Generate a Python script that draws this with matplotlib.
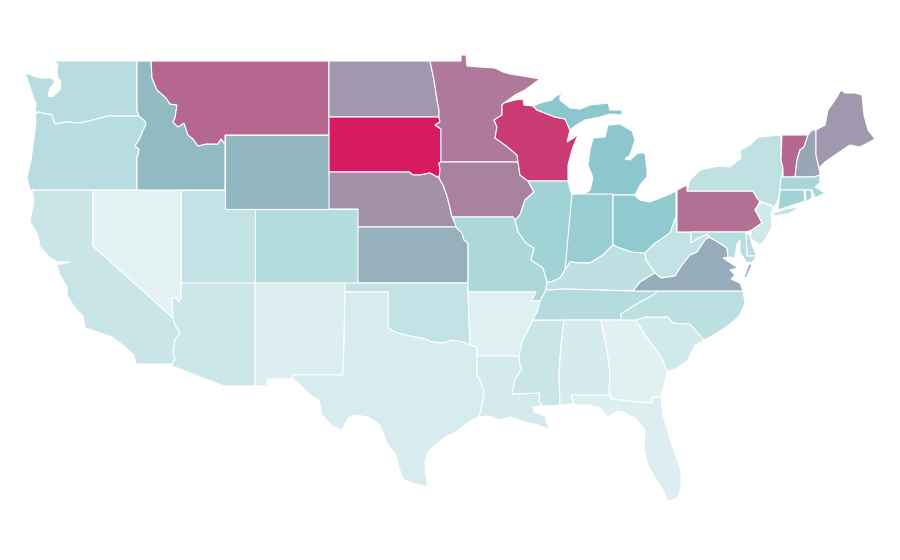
import matplotlib
matplotlib.use('Agg')
import matplotlib.pyplot as plt
from matplotlib.colors import LinearSegmentedColormap, Normalize
from matplotlib.patches import Polygon

# value per state (0-100 on the colour ramp)
states = ['WA','OR','CA','NV','ID','MT','WY','UT','CO','AZ','NM','ND','SD','NE','KS','OK','TX',
          'MN','IA','MO','AR','LA','WI','IL','MS','MI','IN','KY','TN','AL','GA','FL','SC','NC',
          'OH','WV','VA','PA','NY','NJ','DE','MD','VT','NH','ME','MA','CT','RI']
values = [26,26,17,2,54,78,55,20,28,15,7,64,100,66,57,20,9,
          73,70,32,5,11,91,38,17,50,43,23,28,10,4,7,13,24,
          48,20,58,75,22,13,26,26,78,60,64,34,38,36]
ramp = ['#e8f4f5', '#8bc8cc', '#d81b60']

# shared borders, picture coordinates
or_id = [(139,116),(145,121),(146,124),(142,133),(139,140),(135,146),(139,149),(138,156),(137,156)]
wa_or = [(35,115),(38,112),(52,115),(55,124),(65,122),(80,123),(93,120),(108,116),(139,116)]
id_mt = [(151,61),(152,78),(157,90),(166,98),(170,104),(177,105),(175,118),(173,122),(178,127),(184,123),
         (188,135),(193,139),(198,146),(206,144),(218,144),(221,139),(225,144)]
nv_az = [(181,298),(179,302),(176,298),(172,298),(173,318)]
ca_az = [(173,318),(175,325),(180,333),(175,340),(173,352),(175,360),(172,364)]
nd_mn = [(430,61),(434,80),(437,100),(439,110),(439,117)]
sd_mn = [(439,117),(440,122),(435,125),(441,129),(441,162)]
sd_ia = [(441,162),(439,163),(440,170),(439,178)]
sd_ne = [(329,172),(409,172),(413,175),(420,175),(430,173),(439,178)]
ne_ia = [(439,178),(443,185),(447,196),(450,208),(452,217)]
ks_mo = [(456,227),(462,233),(464,240),(468,243),(468,283)]
red_river = [(388,328),(395,332),(405,335),(415,337),(425,339),(432,342),(443,343),(452,340),(463,342),(470,345)]
tx_la = [(477,356),(477,375),(480,380),(484,392),(482,405),(479,417)]
ms_river = [(536,292),(531,301),(540,301),(538,310),(533,320),(528,330),(522,342),(519,356)]
la_ms = [(519,356),(520,365),(522,368),(515,380),(512,394),(540,393),(539,400),(542,406)]
ms_al = [(564,320),(561,345),(559,375),(560,405)]
al_ga = [(601,320),(607,350),(610,372),(609,392),(612,399)]
ga_sc = [(636,320),(645,335),(655,348),(663,360),(667,372)]
mn_wi = [(502,105),(502,115),(494,120),(497,127),(495,138),(505,145),(517,155),(518,162)]
ia_il = [(518,162),(520,175),(528,181),(534,192),(525,200),(520,215),(515,220)]
mo_il = [(515,220),(518,232),(526,243),(534,248),(531,260),(543,268),(547,282)]
oh_river_il = [(551,282),(560,278),(565,270),(570,260),(572,245)]
oh_river_in = [(565,270),(570,262),(580,263),(590,263),(603,255),(613,245)]
oh_river_oh = [(613,245),(620,248),(632,252),(645,253)]
oh_wv = [(645,253),(654,244),(660,240),(670,233),(673,225),(676,217)]
ky_wv = [(645,253),(646,260),(655,273)]
ky_va = [(655,273),(640,282),(633,291)]
va_wv = [(655,273),(661,278),(675,276),(682,265),(690,255),(697,252),(705,240),(709,237)]
md_va = [(709,237),(718,242),(727,248),(728,257)]
nc_tn = [(621,320),(621,314),(640,302),(655,294),(658,291)]
pa_nj = [(753,191),(757,198),(760,201),(755,210),(757,213),(762,223),(752,230),(746,232)]
vt_nh = [(808,135),(804,147),(800,150),(797,160),(795,177)]
nh_me = [(816,130),(816,155),(819,168)]

outlines = {
    'WA': [(54,61),(137,61),(137,110),(139,116)] + wa_or[::-1] + [(36,103),(33,97),(30,87),(25,73),(40,78),(52,78),(55,82),(50,88),
           (48,96),(52,97),(60,90),(61,81),(58,79),(57,72),(58,65)],
    'OR': wa_or + or_id + [(137,190),(30,190),(27,178),(31,160),(33,145),(35,130),(36,120)],
    'CA': [(32,190),(93,190),(93,246),(173,318)] + ca_az[1:] + [(150,364),(136,364),(134,355),(120,343),(112,337),(103,334),
           (92,330),(85,328),(83,316),(75,308),(67,295),(67,287),(60,275),(57,265),(70,262),(58,262),(50,258),(40,247),(38,235),
           (30,222),(34,200)],
    'NV': [(93,190),(181,190)] + nv_az + [(93,246)],
    'ID': id_mt + [(225,190),(137,190)] + or_id[::-1] + [(137,110),(137,61)],
    'MT': id_mt + [(225,135),(329,135),(329,61)],
    'WY': [(225,135),(329,135),(329,209),(225,209)],
    'UT': [(181,190),(225,190),(225,209),(255,209),(255,283),(181,283)],
    'CO': [(255,209),(358,209),(358,283),(255,283)],
    'AZ': [(181,283),(255,283),(255,386),(224,386),(172,366)] + ca_az[::-1] + nv_az[::-1][1:],
    'NM': [(255,283),(345,283),(344,345),(343,375),(293,375),(293,379),(267,379),(267,386),(255,386)],
    'ND': [(329,61)] + nd_mn + [(329,117)],
    'SD': [(329,117)] + sd_mn + sd_ia[1:] + sd_ne[::-1][1:],
    'NE': sd_ne + ne_ia[1:] + [(457,227),(358,227),(358,209),(329,209)],
    'KS': [(358,227),(456,227)] + ks_mo + [(358,283)],
    'OK': [(345,283),(468,283),(468,292),(470,345)] + red_river[::-1][1:] + [(388,292),(345,292)],
    'TX': [(345,292),(388,292)] + red_river + [(477,347)] + tx_la + [(470,421),(465,425),(455,433),(445,437),(435,445),(428,452),
           (425,462),(426,475),(428,487),(415,484),(403,479),(398,465),(396,455),(388,445),(380,425),(368,417),(355,415),(348,418),
           (342,430),(332,426),(322,415),(319,400),(313,397),(300,385),(292,378),(293,375),(343,375),(344,345)],
    'MN': nd_mn + sd_mn[1:] + [(518,162)] + mn_wi[::-1][1:] + [(504,103),(515,95),(525,90),(540,79),(523,76),(510,74),(503,72),
           (495,68),(480,67),(467,66),(466,55),(461,55),(461,61)],
    'IA': sd_ia + ne_ia[1:] + [(513,217)] + ia_il[::-1][:-1] + [(518,162)],
    'MO': [(453,217),(513,217)] + mo_il + [(546,290),(540,301),(531,301),(536,292),(468,292)] + ks_mo[::-1][1:],
    'AR': [(468,292),(536,292)] + ms_river[1:] + [(477,356),(477,347),(470,345)],
    'LA': la_ms + [(533,407),(534,412),(545,416),(549,429),(538,425),(525,422),(510,417),(500,420),(488,416)] + tx_la[::-1],
    'WI': mn_wi + [(520,175),(528,181),(568,181),(568,165),(572,150),(579,132),(575,137),(567,142),(570,130),
           (565,119),(555,117),(537,110),(533,106),(524,105),(523,99),(515,100),(504,103)],
    'IL': [(528,181),(568,181),(572,196),(572,245)] + oh_river_il[::-1][1:] + [(547,282)] + mo_il[::-1][1:] + ia_il[::-1][1:-2],
    'MS': ms_al + [(550,406)] + la_ms[::-1] + ms_river[::-1][1:4],
    'MI': [(583,195),(590,190),(593,178),(588,165),(590,150),(593,138),(605,137),(608,125),(620,124),(632,131),(635,140),(630,155),
           (625,159),(630,160),(638,153),(645,153),(647,170),(647,177),(640,185),(635,195)],
    'MI2': [(533,106),(540,103),(552,100),(556,96),(568,90),(560,96),(560,100),(570,108),(580,109),(590,105),(608,103),(610,110),
            (622,110),(622,115),(610,114),(600,117),(585,120),(575,126),(570,130),(565,119),(555,117),(537,110)],
    'IN': [(572,194),(613,194),(613,245)] + oh_river_in[::-1][1:],
    'KY': [(547,282),(551,282),(560,278),(565,270)] + oh_river_in[1:] + oh_river_oh[1:] + ky_wv[1:] + ky_va[1:] + [(565,289),(546,290)],
    'TN': [(546,290),(565,289),(633,291),(658,291)] + nc_tn[::-1][1:] + [(533,320),(538,310),(540,301)],
    'AL': ms_al + [(565,405),(574,403),(571,395),(612,399)] + al_ga[::-1][1:],
    'GA': al_ga + [(637,402),(652,403),(653,397),(661,397),(664,385)] + ga_sc[::-1],
    'FL': [(571,395),(609,395),(612,399),(637,402),(652,403),(653,397),(661,397),(663,415),(672,445),(681,470),(681,485),(678,498),
           (668,501),(662,488),(655,478),(648,465),(644,450),(645,430),(635,418),(623,412),(617,411),(608,417),(600,408),(590,405),
           (575,405),(574,403)],
    'SC': ga_sc + [(677,368),(688,360),(695,345),(704,340),(690,324),(673,323),(668,317),(645,317)],
    'NC': nc_tn + [(743,291),(745,303),(740,315),(735,320),(725,328),(712,336),(704,340),(690,324),(673,323),(668,317),(645,317),(636,320)],
    'OH': [(613,195),(634,195),(640,200),(650,202),(660,198),(670,194),(676,191),(676,217)] + oh_wv[::-1][1:] + oh_river_oh[::-1][1:],
    'WV': oh_wv + [(677,232),(691,232),(691,243),(698,238),(708,234),(709,237)] + va_wv[::-1][1:-1] + ky_wv[::-1][:-1],
    'VA': ky_va[::-1] + va_wv[1:] + md_va[1:] + [(723,258),(738,268),(730,270),(735,275),(731,279),(740,283),(743,291)],
    'VA2': [(752,265),(746,278),(744,277),(749,264)],
    'PA': [(677,190),(687,185),(687,191)] + pa_nj + [(677,232)],
    'NY': [(687,191),(690,180),(700,170),(718,166),(730,167),(741,158),(740,150),(750,145),(758,137),(781,135),(781,160),(783,168),
           (780,190),(778,200),(774,208),(771,205),(761,202),(760,201),(757,198),(753,191)],
    'NY2': [(772,214),(785,209),(800,207),(790,213),(775,216)],
    'NJ': [(761,202),(773,207),(771,214),(772,227),(765,240),(760,245),(750,238),(752,230),(762,223),(757,213),(755,210)],
    'DE': [(746,232),(750,236),(752,245),(757,256),(747,256)],
    'MD': [(691,232),(746,232),(747,256),(757,256),(752,263),(746,262),(740,252),(740,240),(737,244),(735,258),(728,257)] + md_va[::-1][1:] +
          [(708,234),(698,238),(691,243)],
    'VT': [(782,135)] + vt_nh + [(783,177),(783,168),(781,160)],
    'NH': [(808,135),(812,130)] + nh_me + [(820,175),(814,177)] + vt_nh[::-1][:-1],
    'ME': nh_me + [(825,162),(835,155),(850,145),(860,147),(875,139),(868,130),(864,115),(862,95),(855,93),(845,93),(841,90),(835,100),
           (828,110),(825,125)],
    'MA': [(781,177),(814,177),(820,175),(820,183),(815,187),(825,193),(815,198),(812,190),(780,190)],
    'CT': [(780,190),(804,190),(805,201),(790,206),(778,210),(779,200)],
    'RI': [(805,190),(811,190),(812,198),(806,202)],
}

cmap = LinearSegmentedColormap.from_list('ramp', ramp)
norm = Normalize(0, 100)
value_of = dict(zip(states, values))

fig, ax = plt.subplots(figsize=(9, 5.6), dpi=100)
fig.subplots_adjust(0, 0, 1, 1)
for name, pts in outlines.items():
    v = value_of[name[:2]]
    ax.add_patch(Polygon(pts, closed=True, facecolor=cmap(norm(v)), edgecolor='white', linewidth=0.8))

ax.set_xlim(0, 900)
ax.set_ylim(560, 0)
ax.axis('off')
plt.savefig('out.png', dpi=100)
